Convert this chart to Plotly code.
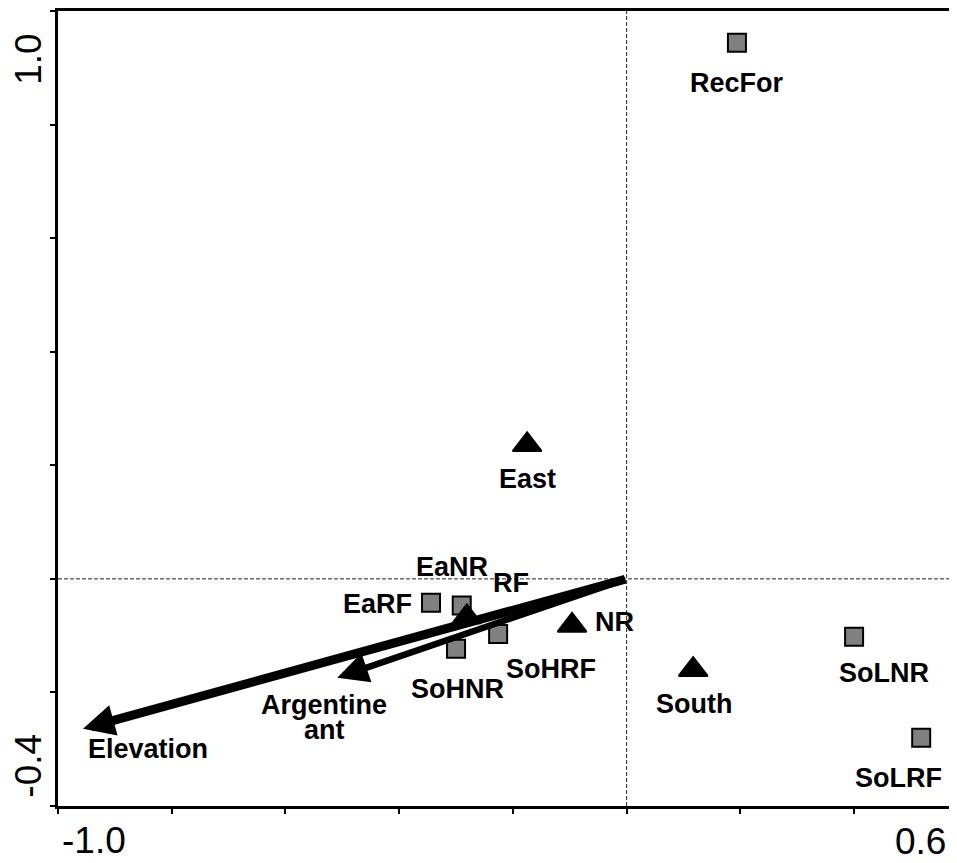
import plotly.graph_objects as go

# ---- data ----
sample_names = ["RecFor", "EaRF", "EaNR", "SoHNR", "SoHRF", "SoLNR", "SoLRF"]
sample_x = [0.194, -0.344, -0.290, -0.300, -0.226, 0.400, 0.518]
sample_y = [0.944, -0.042, -0.047, -0.123, -0.097, -0.102, -0.280]

class_names = ["East", "RF", "NR", "South"]
class_x = [-0.175, -0.281, -0.096, 0.117]
class_y = [0.236, -0.067, -0.082, -0.160]

env_names = ["Elevation", "Argentine ant"]
env_x = [-0.956, -0.509]
env_y = [-0.264, -0.174]

x_tick_vals = [-1.0, -0.8, -0.6, -0.4, -0.2, 0.0, 0.2, 0.4]
y_tick_vals = [-0.4, -0.2, 0.0, 0.2, 0.4, 0.6, 0.8, 1.0]
x_end_labels = ["-1.0", "0.6"]
y_end_labels = ["-0.4", "1.0"]

# ---- label placement (pixel offsets: dx right, dy down) ----
sample_label_off = {"RecFor": (0, 40), "EaRF": (-54, 1), "EaNR": (-10, -39),
                    "SoHNR": (1, 40), "SoHRF": (53, 35), "SoLNR": (30, 36),
                    "SoLRF": (-23, 40)}
class_label_off = {"East": (0, 34), "RF": (44, -34), "NR": (42, -3), "South": (1, 34)}
env_label_off = {"Elevation": [("Elevation", 65, 20)],
                 "Argentine ant": [("Argentine", -13, 27), ("ant", -13, 52)]}
env_widths = {"Elevation": 9, "Argentine ant": 6.5}
env_headsize = {"Elevation": 0.7, "Argentine ant": 0.95}

FONT = "Liberation Sans, Arial, sans-serif"
label_font = dict(family=FONT, size=27, color="black", weight="bold")
axis_font = dict(family=FONT, size=37, color="black")

fig = go.Figure()

fig.add_trace(go.Scatter(
    x=sample_x, y=sample_y, mode="markers", name="samples",
    marker=dict(symbol="square", size=18, color="#808080",
                line=dict(color="black", width=2)),
    hoverinfo="text", text=sample_names, showlegend=False))

fig.add_trace(go.Scatter(
    x=class_x, y=class_y, mode="markers", name="classes",
    marker=dict(symbol="triangle-up", size=25, color="black",
                line=dict(color="black", width=2)),
    hoverinfo="text", text=class_names, showlegend=False))

annotations = []
for n, x, y in zip(sample_names, sample_x, sample_y):
    dx, dy = sample_label_off[n]
    annotations.append(dict(x=x, y=y, xref="x", yref="y", text=n, showarrow=False,
                            xanchor="center", yanchor="middle",
                            xshift=dx, yshift=-dy, font=label_font))
for n, x, y in zip(class_names, class_x, class_y):
    dx, dy = class_label_off[n]
    annotations.append(dict(x=x, y=y, xref="x", yref="y", text=n, showarrow=False,
                            xanchor="center", yanchor="middle",
                            xshift=dx, yshift=-dy, font=label_font))
for n, x, y in zip(env_names, env_x, env_y):
    annotations.append(dict(x=x, y=y, xref="x", yref="y", ax=0, ay=0,
                            axref="x", ayref="y", text="", showarrow=True,
                            arrowhead=2, arrowsize=env_headsize[n],
                            arrowwidth=env_widths[n], arrowcolor="black",
                            standoff=0, startstandoff=0))
    for txt, dx, dy in env_label_off[n]:
        annotations.append(dict(x=x, y=y, xref="x", yref="y", text=txt, showarrow=False,
                                xanchor="center", yanchor="middle",
                                xshift=dx, yshift=-dy, font=label_font))

# axis end labels
annotations.append(dict(x=x_tick_vals[0], xref="x", y=0, yref="paper",
                        text=x_end_labels[0], showarrow=False, xanchor="left",
                        yanchor="middle", xshift=2, yshift=-34, font=axis_font))
annotations.append(dict(x=1, xref="paper", y=0, yref="paper",
                        text=x_end_labels[1], showarrow=False, xanchor="right",
                        yanchor="middle", xshift=-9, yshift=-35, font=axis_font))
annotations.append(dict(x=0, xref="paper", y=-0.329, yref="y",
                        text=y_end_labels[0], showarrow=False, xanchor="center",
                        yanchor="middle", xshift=-29, textangle=-90, font=axis_font))
annotations.append(dict(x=0, xref="paper", y=0.914, yref="y",
                        text=y_end_labels[1], showarrow=False, xanchor="center",
                        yanchor="middle", xshift=-29, textangle=-90, font=axis_font))

fig.add_hline(y=0, line=dict(color="#222222", width=1, dash="4px,2px"), layer="below")
fig.add_vline(x=0, line=dict(color="#222222", width=1, dash="4px,2px"), layer="below")

# page body has an 8px margin, so the figure is sized/offset to compensate
fig.update_layout(
    width=949, height=855,
    margin=dict(l=50, r=0, t=3, b=57, autoexpand=False),
    plot_bgcolor="white", paper_bgcolor="white",
    annotations=annotations,
    xaxis=dict(range=[-1.0, 0.581], showgrid=False, zeroline=False,
               showline=True, linewidth=3, linecolor="black", mirror=True,
               ticks="outside", tickvals=x_tick_vals, ticklen=5, tickwidth=1.5,
               tickcolor="black", showticklabels=False, fixedrange=True),
    yaxis=dict(range=[-0.4, 1.0], showgrid=False, zeroline=False,
               showline=True, linewidth=3, linecolor="black", mirror=False,
               ticks="outside", tickvals=y_tick_vals, ticklen=5, tickwidth=1.5,
               tickcolor="black", showticklabels=False, fixedrange=True),
)

fig.write_html("out.html")
